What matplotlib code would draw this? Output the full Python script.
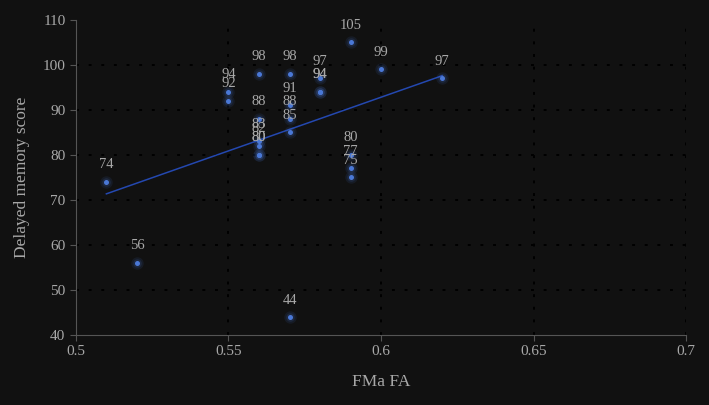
import numpy as np
import matplotlib
matplotlib.use('Agg')
import matplotlib.pyplot as plt

# FMa FA vs delayed memory score
fa = [0.51, 0.52, 0.55, 0.55, 0.56, 0.56, 0.56, 0.56, 0.56, 0.56,
      0.57, 0.57, 0.57, 0.57, 0.57, 0.58, 0.58, 0.58,
      0.59, 0.59, 0.59, 0.59, 0.60, 0.62]
score = [74, 56, 94, 92, 98, 88, 83, 82, 80, 80,
         98, 91, 88, 85, 44, 97, 94, 94,
         105, 80, 77, 75, 99, 97]

xticks = [0.5, 0.55, 0.6, 0.65, 0.7]
xticklabels = ['0.5', '0.55', '0.6', '0.65', '0.7']
yticks = [40, 50, 60, 70, 80, 90, 100, 110]

bg = '#111111'
txt = '#a8a8a8'
dot = '#4a78d6'

plt.rcParams['font.family'] = ['Liberation Serif', 'DejaVu Serif']

fig = plt.figure(figsize=(7.09, 4.05), dpi=100, facecolor=bg)
ax = fig.add_axes([0.107, 0.173, 0.861, 0.778], facecolor=bg)

# glow + points
ax.scatter(fa, score, s=80, color=dot, alpha=0.10, linewidths=0, zorder=3)
ax.scatter(fa, score, s=38, color=dot, alpha=0.15, linewidths=0, zorder=3)
ax.scatter(fa, score, s=13, color=dot, linewidths=0, zorder=4)

# linear trendline
m, b = np.polyfit(fa, score, 1)
xl = np.array([min(fa), max(fa)])
ax.plot(xl, m * xl + b, color='#2448b0', linewidth=1.1, zorder=2)

for x, y in zip(fa, score):
    ax.annotate(str(y), (x, y), xytext=(0, 7.5), textcoords='offset points',
                ha='center', va='bottom', color=txt, fontsize=10.5, zorder=5)

ax.set_xlim(0.5, 0.7)
ax.set_ylim(40, 110)
ax.set_xticks(xticks)
ax.set_xticklabels(xticklabels)
ax.set_yticks(yticks)

for y in yticks[1:-1]:
    ax.axhline(y, color='black', linestyle=(0, (1.5, 5)), linewidth=1.4, zorder=1)
for x in xticks[1:]:
    ax.axvline(x, color='black', linestyle=(0, (1.5, 5)), linewidth=1.4, zorder=1)

for s in ['top', 'right']:
    ax.spines[s].set_visible(False)
for s in ['left', 'bottom']:
    ax.spines[s].set_color('#555555')
    ax.spines[s].set_linewidth(0.8)

ax.tick_params(colors='#555555', labelcolor=txt, labelsize=11, length=4, width=0.8)
ax.set_xlabel('FMa FA', color=txt, fontsize=12.5, labelpad=11)
ax.set_ylabel('Delayed memory score', color=txt, fontsize=12.5, labelpad=9)

fig.savefig('out.png', dpi=100, facecolor=bg)
